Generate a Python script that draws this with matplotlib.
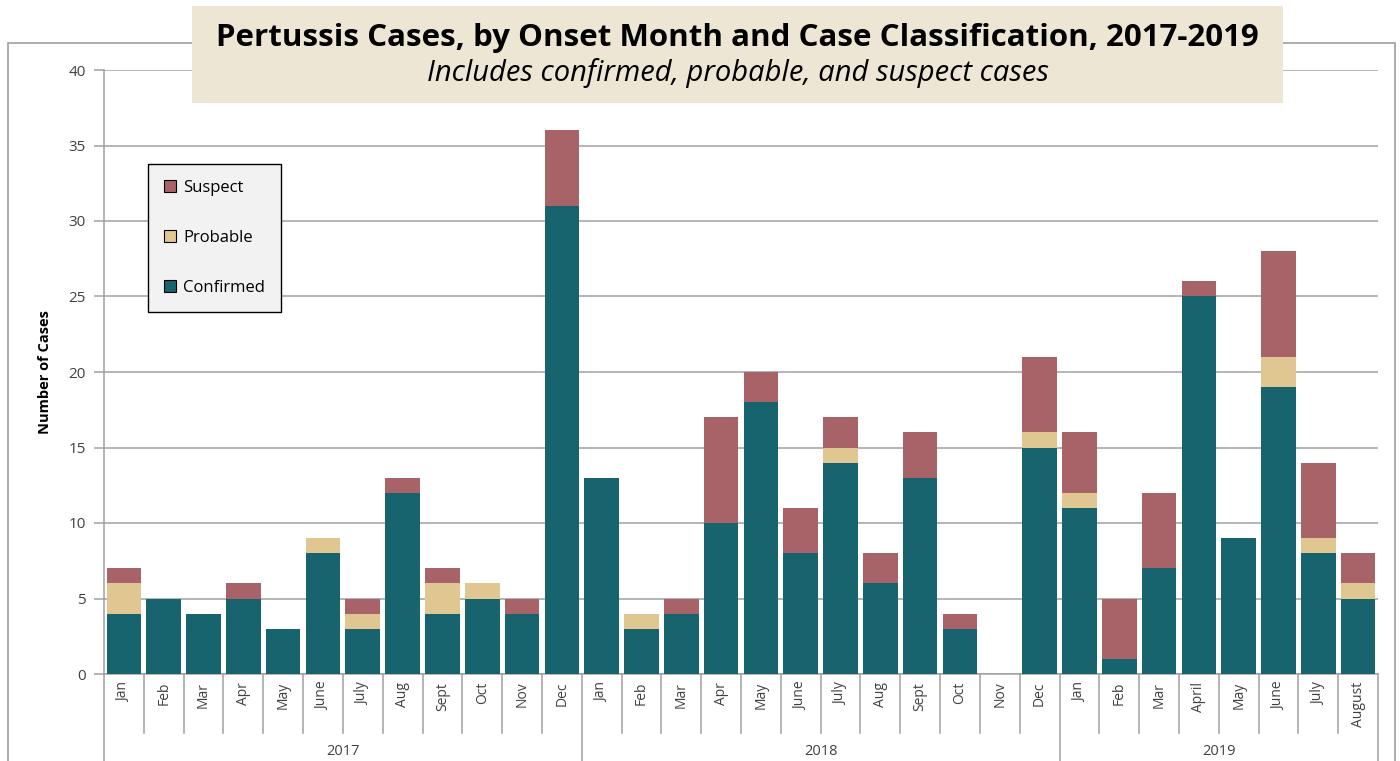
import matplotlib
matplotlib.use("Agg")
import matplotlib.pyplot as plt
import matplotlib.transforms as mtransforms
from matplotlib.patches import Rectangle
import numpy as np

plt.rcParams['font.family'] = ['Open Sans', 'DejaVu Sans']

months = ["Jan", "Feb", "Mar", "Apr", "May", "June", "July", "Aug", "Sept", "Oct", "Nov", "Dec",
          "Jan", "Feb", "Mar", "Apr", "May", "June", "July", "Aug", "Sept", "Oct", "Nov", "Dec",
          "Jan", "Feb", "Mar", "April", "May", "June", "July", "August"]
years = ["2017", "2018", "2019"]
year_counts = [12, 12, 8]

confirmed = [4, 5, 4, 5, 3, 8, 3, 12, 4, 5, 4, 31,
             13, 3, 4, 10, 18, 8, 14, 6, 13, 3, 0, 15,
             11, 1, 7, 25, 9, 19, 8, 5]
probable = [2, 0, 0, 0, 0, 1, 1, 0, 2, 1, 0, 0,
            0, 1, 0, 0, 0, 0, 1, 0, 0, 0, 0, 1,
            1, 0, 0, 0, 0, 2, 1, 1]
suspect = [1, 0, 0, 1, 0, 0, 1, 1, 1, 0, 1, 5,
           0, 0, 1, 7, 2, 3, 2, 2, 3, 1, 0, 5,
           4, 4, 5, 1, 0, 7, 5, 2]

c_conf = "#17646E"
c_prob = "#E0C690"
c_susp = "#A86368"
grid_c = "#A0A0A0"
text_c = "#404040"

fig = plt.figure(figsize=(14, 7.61), dpi=100)
W, H = 1400, 761

# outer chart frame
fig.patches.append(Rectangle((8 / W, -0.05), (1395 - 8) / W, 1.05 - 43 / H,
                             transform=fig.transFigure, fill=False,
                             edgecolor="#A0A0A0", linewidth=1.2, zorder=0))

ax = fig.add_axes([104 / W, 1 - 674 / H, (1378 - 104) / W, (674 - 70) / H])

x = np.arange(len(months))
conf = np.array(confirmed)
prob = np.array(probable)
susp = np.array(suspect)
bw = 0.87
ax.bar(x, conf, bw, color=c_conf, label="Confirmed", zorder=3)
ax.bar(x, prob, bw, bottom=conf, color=c_prob, label="Probable", zorder=3)
ax.bar(x, susp, bw, bottom=conf + prob, color=c_susp, label="Suspect", zorder=3)

ax.set_xlim(-0.5, len(months) - 0.5)
ax.set_ylim(0, 40)
ax.set_yticks(range(0, 41, 5))
ax.yaxis.grid(True, color=grid_c, linewidth=1.1, zorder=0)
ax.set_axisbelow(True)
for s in ["top", "right"]:
    ax.spines[s].set_visible(False)
ax.spines["left"].set_color(grid_c)
ax.spines["bottom"].set_color(grid_c)
ax.spines["left"].set_linewidth(1.1)
ax.spines["bottom"].set_linewidth(1.1)
ax.tick_params(axis="y", colors=grid_c, labelcolor=text_c, labelsize=11, length=7, width=1.1, pad=6)
ax.set_xticks([])

ax.set_ylabel("Number of Cases", fontsize=10.5, fontweight="bold", labelpad=12)

# month labels and separators
trans = mtransforms.blended_transform_factory(ax.transData, ax.transAxes)
for i, m in enumerate(months):
    ax.text(i, -0.013, m, rotation=90, ha="center", va="top", fontsize=10,
            color=text_c, transform=trans)
bounds = np.cumsum([0] + year_counts) - 0.5
for i in range(len(months) + 1):
    xb = i - 0.5
    y_end = -0.144 if xb in bounds else -0.098
    ax.plot([xb, xb], [0, y_end], color=grid_c, linewidth=1.1,
            transform=trans, clip_on=False)
for j, yr in enumerate(years):
    xc = (bounds[j] + bounds[j + 1]) / 2
    ax.text(xc, -0.129, yr, ha="center", va="center", fontsize=10.5,
            color=text_c, transform=trans)

# legend
h, l = ax.get_legend_handles_labels()
leg = ax.legend(h[::-1], l[::-1], loc="upper left", bbox_to_anchor=((148 - 104) / (1378 - 104), (674 - 164) / 604),
                frameon=True, fancybox=False, fontsize=12, labelspacing=2.05,
                handlelength=0.75, handleheight=0.75, handletextpad=0.4,
                borderpad=0.95, borderaxespad=0)
leg.get_frame().set_facecolor("#F2F2F2")
leg.get_frame().set_edgecolor("black")
leg.get_frame().set_linewidth(1.0)
leg.get_frame().set_alpha(1)
for p in leg.get_patches():
    p.set_edgecolor("black")
    p.set_linewidth(0.8)

# title box
fig.patches.append(Rectangle((192 / W, 1 - 103 / H), (1283 - 192) / W, (103 - 6) / H,
                             transform=fig.transFigure, facecolor="#EDE6D4",
                             edgecolor="none", zorder=5))
fig.text((192 + 1283) / 2 / W, 1 - 38 / H, "Pertussis Cases, by Onset Month and Case Classification, 2017-2019",
         ha="center", va="center", fontsize=22.5, fontweight="bold", color="black", zorder=6)
fig.text((192 + 1283) / 2 / W, 1 - 73 / H, "Includes confirmed, probable, and suspect cases",
         ha="center", va="center", fontsize=21, style="italic", color="black", zorder=6)

fig.savefig("out.png", dpi=100)
